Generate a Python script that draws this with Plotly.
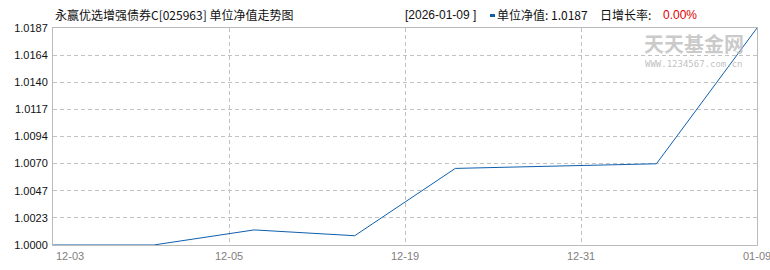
import math
import plotly.graph_objects as go

# ---------------- data ----------------
dates = ["2025-12-03", "2025-12-05", "2025-12-12", "2025-12-19",
         "2025-12-26", "2025-12-31", "2026-01-05", "2026-01-09"]
nav = [1.0000, 1.0000, 1.0013, 1.0008, 1.0066, 1.0068, 1.0070, 1.0187]
y_tick_labels = ["1.0000", "1.0023", "1.0047", "1.0070", "1.0094",
                 "1.0117", "1.0140", "1.0164", "1.0187"]
fund_title = "永赢优选增强债券C[025963] 单位净值走势图"
series_name = "单位净值"
growth_label = "日增长率"
daily_growth = "0.00%"

# ---------------- layout constants ----------------
W, H = 770, 270
L, R, T, B = 53, 13, 28, 25
PW, PH = W - L - R, H - T - B

def px_x(px):
    return (px - L) / PW

def px_y(py):
    return (H - B - py) / PH

LINE_COLOR = "#0f5fad"
GRID_COLOR = "#c2c2c2"
BORDER_COLOR = "#bbbbbb"
FONT_NUM = "Liberation Sans, Noto Sans CJK SC"
FONT_CJK = "Noto Sans CJK SC, Liberation Sans"

n = len(dates)
xs = list(range(n))
ymin, ymax = min(nav), max(nav)
n_yticks = len(y_tick_labels)
ytickvals = [ymin + k * (ymax - ymin) / (n_yticks - 1) for k in range(n_yticks)]

# x ticks: evenly spaced quarters, labelled with the date at floor(index)
n_xticks = 5
xtickvals = [k * (n - 1) / (n_xticks - 1) for k in range(n_xticks)]
xticktext = [dates[int(math.floor(v + 1e-9))][5:] for v in xtickvals]

fig = go.Figure()
fig.add_trace(go.Scatter(
    x=xs, y=nav, mode="lines",
    line=dict(color=LINE_COLOR, width=1),
    customdata=dates,
    hovertemplate="%{customdata}<br>单位净值: %{y:.4f}<extra></extra>",
    showlegend=False,
))

annotations = []
# watermark
annotations.append(dict(
    xref="paper", yref="paper", x=px_x(694), y=px_y(43),
    text="<b>天天基金网</b>", showarrow=False, xanchor="center", yanchor="middle",
    font=dict(family=FONT_CJK, size=20, color="rgba(185,185,185,0.75)"),
    borderpad=0,
))
annotations.append(dict(
    xref="paper", yref="paper", x=px_x(694), y=px_y(64),
    text="WWW.1234567.com.cn", showarrow=False, xanchor="center", yanchor="middle",
    font=dict(family="DejaVu Sans Mono", size=9, color="rgba(175,175,175,0.8)"),
    borderpad=0,
))

# x tick labels as annotations (first label left-aligned)
for i, (v, t) in enumerate(zip(xtickvals, xticktext)):
    annotations.append(dict(
        xref="x", yref="paper", x=v, y=0, text=t, showarrow=False,
        xanchor="left" if i == 0 else "center", yanchor="top",
        xshift=2 if i == 0 else 0, yshift=-4, borderpad=0,
        font=dict(family=FONT_NUM, size=11, color="#808080"),
    ))

# title and info line
annotations.append(dict(
    xref="paper", yref="paper", x=px_x(54), y=px_y(15),
    text=fund_title, showarrow=False, xanchor="left", yanchor="middle",
    font=dict(family=FONT_CJK, size=12, color="#111111"), borderpad=0,
))
annotations.append(dict(
    xref="paper", yref="paper", x=px_x(404), y=px_y(15),
    text="[" + dates[-1] + " ]", showarrow=False, xanchor="left", yanchor="middle",
    font=dict(family=FONT_NUM, size=12, color="#111111"), borderpad=0,
))
annotations.append(dict(
    xref="paper", yref="paper", x=px_x(496), y=px_y(15),
    text=series_name + ": " + f"{nav[-1]:.4f}", showarrow=False,
    xanchor="left", yanchor="middle",
    font=dict(family=FONT_CJK, size=12, color="#111111"), borderpad=0,
))
annotations.append(dict(
    xref="paper", yref="paper", x=px_x(599), y=px_y(15),
    text=growth_label + ":", showarrow=False, xanchor="left", yanchor="middle",
    font=dict(family=FONT_CJK, size=12, color="#111111"), borderpad=0,
))
annotations.append(dict(
    xref="paper", yref="paper", x=px_x(662), y=px_y(15),
    text=daily_growth, showarrow=False, xanchor="left", yanchor="middle",
    font=dict(family=FONT_NUM, size=12, color="#e00000"), borderpad=0,
))

shapes = [dict(
    type="rect", xref="paper", yref="paper",
    x0=px_x(490), x1=px_x(495), y0=px_y(17), y1=px_y(14),
    fillcolor=LINE_COLOR, line=dict(width=0),
)]

fig.update_layout(
    width=W, height=H,
    margin=dict(l=L, r=R, t=T, b=B, pad=0),
    paper_bgcolor="white", plot_bgcolor="white",
    annotations=annotations, shapes=shapes,
    hovermode="closest",
)
fig.update_xaxes(
    range=[0, n - 1], tickvals=xtickvals, ticktext=xticktext,
    showticklabels=False, ticks="",
    showgrid=True, gridcolor=GRID_COLOR, griddash="4px,3px", gridwidth=1,
    showline=True, linecolor=BORDER_COLOR, linewidth=1, mirror=True,
    zeroline=False, fixedrange=True,
)
fig.update_yaxes(
    range=[ymin, ymax], tickvals=ytickvals, ticktext=y_tick_labels,
    ticks="", tickfont=dict(family=FONT_NUM, size=11, color="#111111"),
    ticklabelstandoff=2,
    showgrid=True, gridcolor=GRID_COLOR, griddash="4px,3px", gridwidth=1,
    showline=True, linecolor=BORDER_COLOR, linewidth=1, mirror=True,
    zeroline=False, fixedrange=True,
)

fig.write_html("out.html", config={"displayModeBar": False})
